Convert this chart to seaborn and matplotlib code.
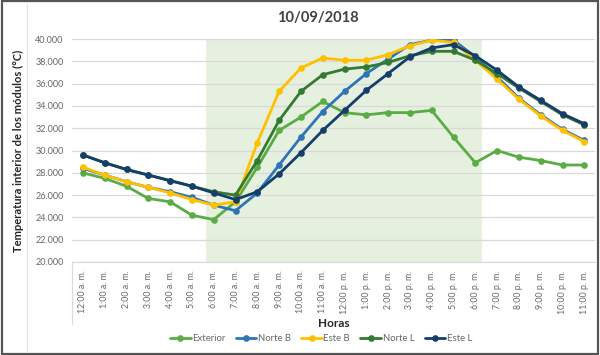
import matplotlib
matplotlib.use('Agg')
import matplotlib.pyplot as plt
import seaborn as sns
import pandas as pd
from matplotlib.patches import Rectangle

horas = ['12:00 a. m.', '1:00 a. m.', '2:00 a. m.', '3:00 a. m.', '4:00 a. m.',
         '5:00 a. m.', '6:00 a. m.', '7:00 a. m.', '8:00 a. m.', '9:00 a. m.',
         '10:00 a. m.', '11:00 a. m.', '12:00 p. m.', '1:00 p. m.', '2:00 p. m.',
         '3:00 p. m.', '4:00 p. m.', '5:00 p. m.', '6:00 p. m.', '7:00 p. m.',
         '8:00 p. m.', '9:00 p. m.', '10:00 p. m.', '11:00 p. m.']

exterior = [28.0, 27.5, 26.8, 25.7, 25.4, 24.2, 23.8, 25.4, 28.5, 31.8, 33.0, 34.4,
            33.4, 33.2, 33.4, 33.4, 33.6, 31.2, 28.9, 30.0, 29.4, 29.1, 28.7, 28.7]
norte_b = [28.4, 27.8, 27.2, 26.7, 26.3, 25.8, 25.1, 24.6, 26.2, 28.7, 31.2, 33.5,
           35.3, 36.9, 38.2, 39.5, 39.9, 39.9, 38.4, 36.6, 34.7, 33.2, 31.9, 30.9]
este_b = [28.5, 27.8, 27.2, 26.7, 26.2, 25.6, 25.1, 25.4, 30.7, 35.3, 37.4, 38.3,
          38.1, 38.1, 38.6, 39.4, 39.9, 39.7, 38.1, 36.4, 34.6, 33.1, 31.8, 30.8]
norte_l = [29.6, 28.9, 28.3, 27.8, 27.3, 26.8, 26.3, 26.0, 29.1, 32.7, 35.3, 36.8,
           37.3, 37.5, 37.9, 38.5, 38.9, 38.9, 38.1, 36.9, 35.6, 34.4, 33.2, 32.3]
este_l = [29.6, 28.9, 28.3, 27.8, 27.3, 26.8, 26.2, 25.6, 26.3, 27.9, 29.8, 31.8,
          33.6, 35.4, 36.9, 38.4, 39.2, 39.5, 38.5, 37.2, 35.7, 34.5, 33.3, 32.4]

series = {'Exterior': exterior, 'Norte B': norte_b, 'Este B': este_b,
          'Norte L': norte_l, 'Este L': este_l}
colores = ['#5aac44', '#2e75b6', '#ffc000', '#357a32', '#163e6b']

rows = []
for nombre, vals in series.items():
    for i, v in enumerate(vals):
        rows.append({'hora': i, 'temp': v, 'serie': nombre})
df = pd.DataFrame(rows)

sns.set_style('white')
plt.rcParams['font.family'] = ['Lato', 'DejaVu Sans']

fig = plt.figure(figsize=(6, 3.55), dpi=100)
ax = fig.add_axes([0.12, 0.262, 0.872, 0.628])

ax.axvspan(5.65, 18.3, color='#e6f0de', zorder=0, lw=0)
ax.set_yticks(range(20, 41, 2))
ax.yaxis.grid(True, color='#d9d9d9', lw=0.9)
ax.set_axisbelow(True)

sns.lineplot(data=df, x='hora', y='temp', hue='serie', palette=colores,
             marker='o', markersize=4.8, markeredgewidth=0, lw=2.0,
             ax=ax, legend=False, zorder=3)

ax.set_xlim(-0.5, 23.5)
ax.set_ylim(20, 40)
ax.set_xticks(range(len(horas)))
ax.set_xticklabels(horas, rotation=90, fontsize=6.3, color='#666666')
ax.set_yticklabels([f'{v:.3f}' for v in range(20, 41, 2)], fontsize=6.5, color='#666666')
ax.tick_params(axis='both', length=0, pad=6)
for s in ['top', 'right', 'left']:
    ax.spines[s].set_visible(False)
ax.spines['bottom'].set_color('#d9d9d9')
# borde del area de etiquetas
ax.plot([0, 0], [0, -0.28], transform=ax.transAxes, color='#d9d9d9', lw=0.8, clip_on=False)

ax.set_xlabel('Horas', fontsize=8.5, fontweight='bold', color='#262626', labelpad=3)
ax.set_ylabel('Temperatura interior de los módulos (°C)', fontsize=8,
              fontweight='bold', color='#262626', labelpad=8)
fig.text(0.53, 0.948, '10/09/2018', ha='center', va='center', fontsize=10.5,
         fontweight='bold', color='#404040')

handles = [plt.Line2D([], [], color=c, lw=2.0, marker='o', markersize=4.8,
                      markeredgewidth=0) for c in colores]
fig.legend(handles, list(series.keys()), loc='center', bbox_to_anchor=(0.535, 0.047),
           ncol=5, frameon=False, fontsize=6.8, handlelength=2.2, handletextpad=0.15,
           columnspacing=1.1, labelcolor='#666666')

fig.add_artist(plt.Line2D([0.045, 0.045], [0.01, 0.99], transform=fig.transFigure,
                          color='#e3e3e3', lw=0.8))
fig.patches.append(Rectangle((0.003, 0.004), 0.993, 0.992, transform=fig.transFigure,
                             fill=False, edgecolor='#555555', lw=1.6))

fig.savefig('out.png', dpi=100)
